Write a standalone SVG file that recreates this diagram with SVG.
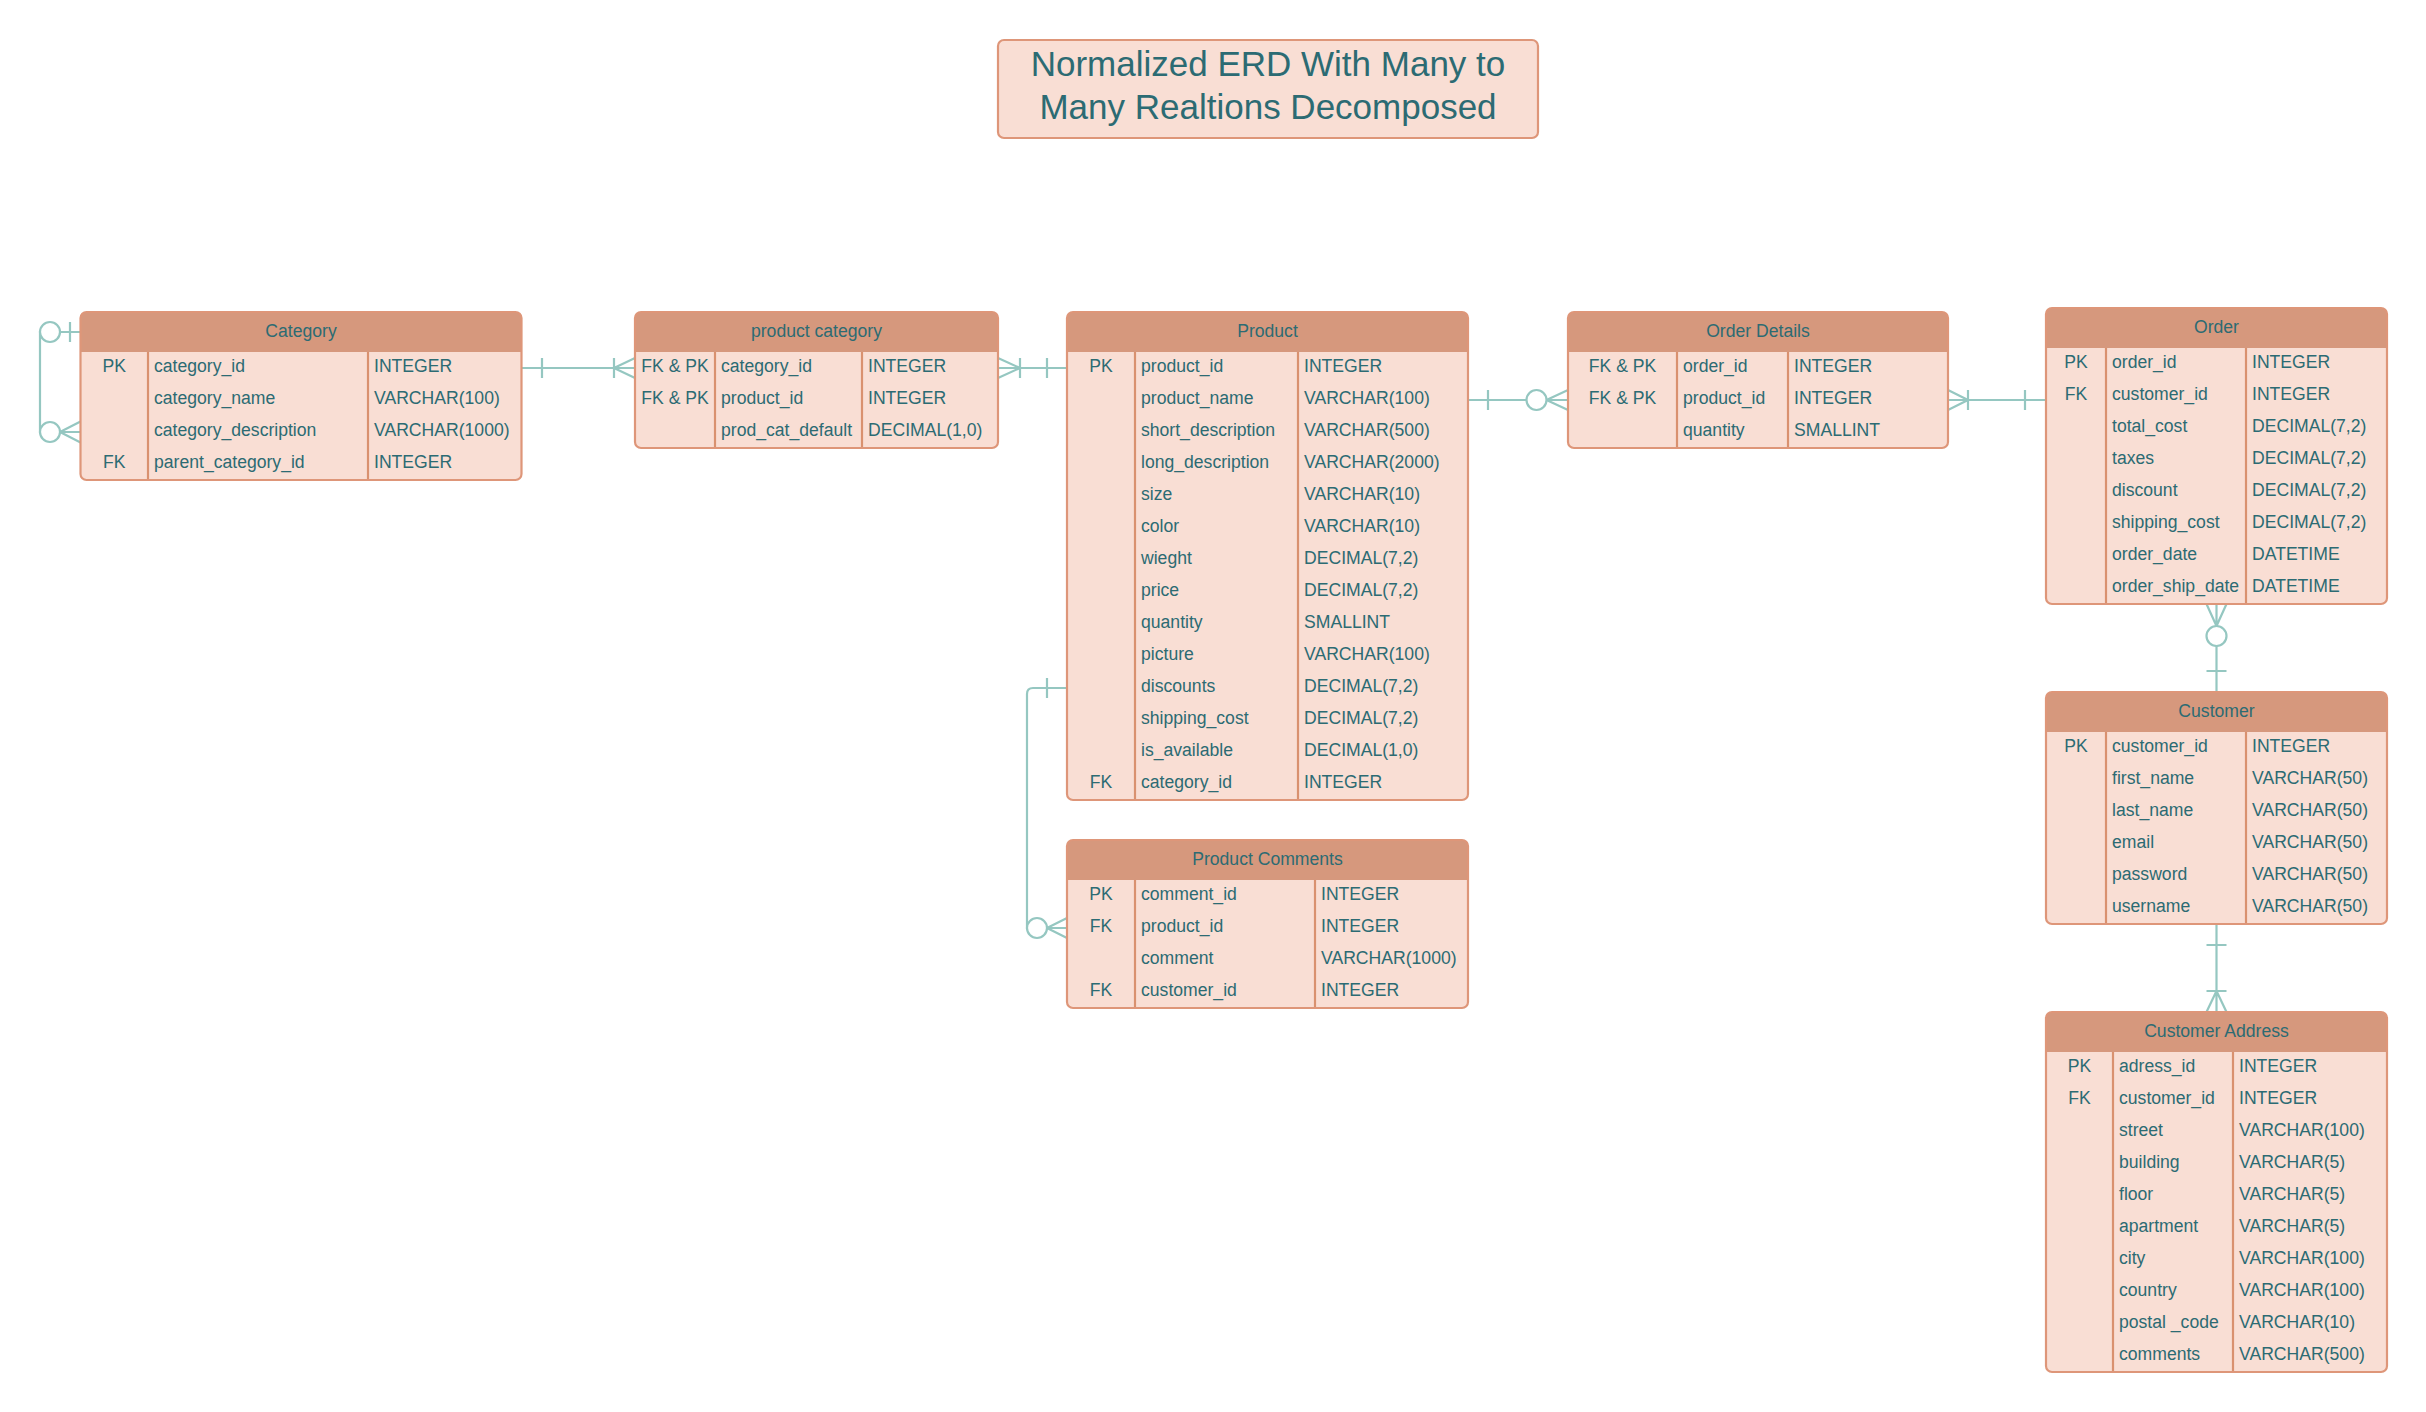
<svg xmlns="http://www.w3.org/2000/svg" width="2426" height="1412" viewBox="0 0 2426 1412">
<style>
.bg{fill:#ffffff}
.bd{fill:#F9DED4}
.hd{fill:#D6987D}
.ol{fill:none;stroke:#DE9679;stroke-width:2.2}
.dv{stroke:#D9916F;stroke-width:2.2}
.t{font-family:"Liberation Sans",Arial,sans-serif;font-size:17.6px;fill:#2C6B73}
.h{text-anchor:middle}
.k{text-anchor:middle}
.ti{font-family:"Liberation Sans",Arial,sans-serif;font-size:35px;fill:#2C6B73;text-anchor:middle}
.cn{fill:none;stroke:#95C7C1;stroke-width:2.2}
.ci{fill:#ffffff;stroke:#95C7C1;stroke-width:2.2}
</style>
<rect class="bg" x="0" y="0" width="2426" height="1412"/>

<g id="connectors">
  <!-- Category self relation -->
  <path class="cn" d="M80.5,332 H40 V432 H80.5 M70,322 V342 M60,432 L80.5,421.5 M60,432 L80.5,442.5"/>
  <circle class="ci" cx="50" cy="332" r="10"/>
  <circle class="ci" cx="50" cy="432" r="10"/>
  <!-- Category to product category -->
  <path class="cn" d="M521.5,368 H635 M542,358 V378 M614,358 V378 M614,368 L635,358 M614,368 L635,378"/>
  <!-- product category to Product -->
  <path class="cn" d="M998,368 H1067 M1020,368 L998,358 M1020,368 L998,378 M1020,358 V378 M1047,358 V378"/>
  <!-- Product to Order Details -->
  <path class="cn" d="M1468,400 H1568 M1488,390 V410 M1546.5,400 L1568,390 M1546.5,400 L1568,410"/>
  <circle class="ci" cx="1536.5" cy="400" r="10"/>
  <!-- Order Details to Order -->
  <path class="cn" d="M1948,400 H2046 M1968,400 L1948,390 M1968,400 L1948,410 M1968,390 V410 M2025,390 V410"/>
  <!-- Order to Customer -->
  <path class="cn" d="M2216.5,604 V692 M2216.5,626 L2206.5,604 M2216.5,626 L2226.5,604 M2206.5,671 H2226.5"/>
  <circle class="ci" cx="2216.5" cy="636" r="10"/>
  <!-- Customer to Customer Address -->
  <path class="cn" d="M2216.5,924 V1012 M2206.5,945 H2226.5 M2206.5,991 H2226.5 M2216.5,991 L2206.5,1012 M2216.5,991 L2226.5,1012"/>
  <!-- Product to Product Comments -->
  <path class="cn" d="M1067,688 H1033 Q1027,688 1027,694 V928 H1067 M1047,678 V698 M1047,928 L1067,918 M1047,928 L1067,938"/>
  <circle class="ci" cx="1037" cy="928" r="10"/>
</g>

<g id="title">
  <rect x="998" y="40" width="540" height="98" rx="6" fill="#F9DED4" stroke="#DE9679" stroke-width="2.2"/>
  <text class="ti" x="1268" y="76">Normalized ERD With Many to</text>
  <text class="ti" x="1268" y="119">Many Realtions Decomposed</text>
</g>

<g id="category">
  <rect class="bd" x="80.5" y="312" width="441" height="168" rx="6"/>
  <path class="hd" d="M80.5,352 V318 Q80.5,312 86.5,312 H515.5 Q521.5,312 521.5,318 V352 Z"/>
  <line class="dv" x1="148" y1="352" x2="148" y2="480"/>
  <line class="dv" x1="368" y1="352" x2="368" y2="480"/>
  <rect class="ol" x="80.5" y="312" width="441" height="168" rx="6"/>
  <text class="t h" x="301" y="336.5">Category</text>
  <text class="t k" x="114.25" y="372">PK</text>
  <text class="t" x="154" y="372">category_id</text>
  <text class="t" x="374" y="372">INTEGER</text>
  <text class="t" x="154" y="404">category_name</text>
  <text class="t" x="374" y="404">VARCHAR(100)</text>
  <text class="t" x="154" y="436">category_description</text>
  <text class="t" x="374" y="436">VARCHAR(1000)</text>
  <text class="t k" x="114.25" y="468">FK</text>
  <text class="t" x="154" y="468">parent_category_id</text>
  <text class="t" x="374" y="468">INTEGER</text>
</g>

<g id="product-category">
  <rect class="bd" x="635" y="312" width="363" height="136" rx="6"/>
  <path class="hd" d="M635,352 V318 Q635,312 641,312 H992 Q998,312 998,318 V352 Z"/>
  <line class="dv" x1="715" y1="352" x2="715" y2="448"/>
  <line class="dv" x1="862" y1="352" x2="862" y2="448"/>
  <rect class="ol" x="635" y="312" width="363" height="136" rx="6"/>
  <text class="t h" x="816.5" y="336.5">product category</text>
  <text class="t k" x="675" y="372">FK &amp; PK</text>
  <text class="t" x="721" y="372">category_id</text>
  <text class="t" x="868" y="372">INTEGER</text>
  <text class="t k" x="675" y="404">FK &amp; PK</text>
  <text class="t" x="721" y="404">product_id</text>
  <text class="t" x="868" y="404">INTEGER</text>
  <text class="t" x="721" y="436">prod_cat_default</text>
  <text class="t" x="868" y="436">DECIMAL(1,0)</text>
</g>

<g id="product">
  <rect class="bd" x="1067" y="312" width="401" height="488" rx="6"/>
  <path class="hd" d="M1067,352 V318 Q1067,312 1073,312 H1462 Q1468,312 1468,318 V352 Z"/>
  <line class="dv" x1="1135" y1="352" x2="1135" y2="800"/>
  <line class="dv" x1="1298" y1="352" x2="1298" y2="800"/>
  <rect class="ol" x="1067" y="312" width="401" height="488" rx="6"/>
  <text class="t h" x="1267.5" y="336.5">Product</text>
  <text class="t k" x="1101" y="372">PK</text>
  <text class="t" x="1141" y="372">product_id</text>
  <text class="t" x="1304" y="372">INTEGER</text>
  <text class="t" x="1141" y="404">product_name</text>
  <text class="t" x="1304" y="404">VARCHAR(100)</text>
  <text class="t" x="1141" y="436">short_description</text>
  <text class="t" x="1304" y="436">VARCHAR(500)</text>
  <text class="t" x="1141" y="468">long_description</text>
  <text class="t" x="1304" y="468">VARCHAR(2000)</text>
  <text class="t" x="1141" y="500">size</text>
  <text class="t" x="1304" y="500">VARCHAR(10)</text>
  <text class="t" x="1141" y="532">color</text>
  <text class="t" x="1304" y="532">VARCHAR(10)</text>
  <text class="t" x="1141" y="564">wieght</text>
  <text class="t" x="1304" y="564">DECIMAL(7,2)</text>
  <text class="t" x="1141" y="596">price</text>
  <text class="t" x="1304" y="596">DECIMAL(7,2)</text>
  <text class="t" x="1141" y="628">quantity</text>
  <text class="t" x="1304" y="628">SMALLINT</text>
  <text class="t" x="1141" y="660">picture</text>
  <text class="t" x="1304" y="660">VARCHAR(100)</text>
  <text class="t" x="1141" y="692">discounts</text>
  <text class="t" x="1304" y="692">DECIMAL(7,2)</text>
  <text class="t" x="1141" y="724">shipping_cost</text>
  <text class="t" x="1304" y="724">DECIMAL(7,2)</text>
  <text class="t" x="1141" y="756">is_available</text>
  <text class="t" x="1304" y="756">DECIMAL(1,0)</text>
  <text class="t k" x="1101" y="788">FK</text>
  <text class="t" x="1141" y="788">category_id</text>
  <text class="t" x="1304" y="788">INTEGER</text>
</g>

<g id="product-comments">
  <rect class="bd" x="1067" y="840" width="401" height="168" rx="6"/>
  <path class="hd" d="M1067,880 V846 Q1067,840 1073,840 H1462 Q1468,840 1468,846 V880 Z"/>
  <line class="dv" x1="1135" y1="880" x2="1135" y2="1008"/>
  <line class="dv" x1="1315" y1="880" x2="1315" y2="1008"/>
  <rect class="ol" x="1067" y="840" width="401" height="168" rx="6"/>
  <text class="t h" x="1267.5" y="864.5">Product Comments</text>
  <text class="t k" x="1101" y="900">PK</text>
  <text class="t" x="1141" y="900">comment_id</text>
  <text class="t" x="1321" y="900">INTEGER</text>
  <text class="t k" x="1101" y="932">FK</text>
  <text class="t" x="1141" y="932">product_id</text>
  <text class="t" x="1321" y="932">INTEGER</text>
  <text class="t" x="1141" y="964">comment</text>
  <text class="t" x="1321" y="964">VARCHAR(1000)</text>
  <text class="t k" x="1101" y="996">FK</text>
  <text class="t" x="1141" y="996">customer_id</text>
  <text class="t" x="1321" y="996">INTEGER</text>
</g>

<g id="order-details">
  <rect class="bd" x="1568" y="312" width="380" height="136" rx="6"/>
  <path class="hd" d="M1568,352 V318 Q1568,312 1574,312 H1942 Q1948,312 1948,318 V352 Z"/>
  <line class="dv" x1="1677" y1="352" x2="1677" y2="448"/>
  <line class="dv" x1="1788" y1="352" x2="1788" y2="448"/>
  <rect class="ol" x="1568" y="312" width="380" height="136" rx="6"/>
  <text class="t h" x="1758" y="336.5">Order Details</text>
  <text class="t k" x="1622.5" y="372">FK &amp; PK</text>
  <text class="t" x="1683" y="372">order_id</text>
  <text class="t" x="1794" y="372">INTEGER</text>
  <text class="t k" x="1622.5" y="404">FK &amp; PK</text>
  <text class="t" x="1683" y="404">product_id</text>
  <text class="t" x="1794" y="404">INTEGER</text>
  <text class="t" x="1683" y="436">quantity</text>
  <text class="t" x="1794" y="436">SMALLINT</text>
</g>

<g id="order">
  <rect class="bd" x="2046" y="308" width="341" height="296" rx="6"/>
  <path class="hd" d="M2046,348 V314 Q2046,308 2052,308 H2381 Q2387,308 2387,314 V348 Z"/>
  <line class="dv" x1="2106" y1="348" x2="2106" y2="604"/>
  <line class="dv" x1="2246" y1="348" x2="2246" y2="604"/>
  <rect class="ol" x="2046" y="308" width="341" height="296" rx="6"/>
  <text class="t h" x="2216.5" y="332.5">Order</text>
  <text class="t k" x="2076" y="368">PK</text>
  <text class="t" x="2112" y="368">order_id</text>
  <text class="t" x="2252" y="368">INTEGER</text>
  <text class="t k" x="2076" y="400">FK</text>
  <text class="t" x="2112" y="400">customer_id</text>
  <text class="t" x="2252" y="400">INTEGER</text>
  <text class="t" x="2112" y="432">total_cost</text>
  <text class="t" x="2252" y="432">DECIMAL(7,2)</text>
  <text class="t" x="2112" y="464">taxes</text>
  <text class="t" x="2252" y="464">DECIMAL(7,2)</text>
  <text class="t" x="2112" y="496">discount</text>
  <text class="t" x="2252" y="496">DECIMAL(7,2)</text>
  <text class="t" x="2112" y="528">shipping_cost</text>
  <text class="t" x="2252" y="528">DECIMAL(7,2)</text>
  <text class="t" x="2112" y="560">order_date</text>
  <text class="t" x="2252" y="560">DATETIME</text>
  <text class="t" x="2112" y="592">order_ship_date</text>
  <text class="t" x="2252" y="592">DATETIME</text>
</g>

<g id="customer">
  <rect class="bd" x="2046" y="692" width="341" height="232" rx="6"/>
  <path class="hd" d="M2046,732 V698 Q2046,692 2052,692 H2381 Q2387,692 2387,698 V732 Z"/>
  <line class="dv" x1="2106" y1="732" x2="2106" y2="924"/>
  <line class="dv" x1="2246" y1="732" x2="2246" y2="924"/>
  <rect class="ol" x="2046" y="692" width="341" height="232" rx="6"/>
  <text class="t h" x="2216.5" y="716.5">Customer</text>
  <text class="t k" x="2076" y="752">PK</text>
  <text class="t" x="2112" y="752">customer_id</text>
  <text class="t" x="2252" y="752">INTEGER</text>
  <text class="t" x="2112" y="784">first_name</text>
  <text class="t" x="2252" y="784">VARCHAR(50)</text>
  <text class="t" x="2112" y="816">last_name</text>
  <text class="t" x="2252" y="816">VARCHAR(50)</text>
  <text class="t" x="2112" y="848">email</text>
  <text class="t" x="2252" y="848">VARCHAR(50)</text>
  <text class="t" x="2112" y="880">password</text>
  <text class="t" x="2252" y="880">VARCHAR(50)</text>
  <text class="t" x="2112" y="912">username</text>
  <text class="t" x="2252" y="912">VARCHAR(50)</text>
</g>

<g id="customer-address">
  <rect class="bd" x="2046" y="1012" width="341" height="360" rx="6"/>
  <path class="hd" d="M2046,1052 V1018 Q2046,1012 2052,1012 H2381 Q2387,1012 2387,1018 V1052 Z"/>
  <line class="dv" x1="2113" y1="1052" x2="2113" y2="1372"/>
  <line class="dv" x1="2233" y1="1052" x2="2233" y2="1372"/>
  <rect class="ol" x="2046" y="1012" width="341" height="360" rx="6"/>
  <text class="t h" x="2216.5" y="1036.5">Customer Address</text>
  <text class="t k" x="2079.5" y="1072">PK</text>
  <text class="t" x="2119" y="1072">adress_id</text>
  <text class="t" x="2239" y="1072">INTEGER</text>
  <text class="t k" x="2079.5" y="1104">FK</text>
  <text class="t" x="2119" y="1104">customer_id</text>
  <text class="t" x="2239" y="1104">INTEGER</text>
  <text class="t" x="2119" y="1136">street</text>
  <text class="t" x="2239" y="1136">VARCHAR(100)</text>
  <text class="t" x="2119" y="1168">building</text>
  <text class="t" x="2239" y="1168">VARCHAR(5)</text>
  <text class="t" x="2119" y="1200">floor</text>
  <text class="t" x="2239" y="1200">VARCHAR(5)</text>
  <text class="t" x="2119" y="1232">apartment</text>
  <text class="t" x="2239" y="1232">VARCHAR(5)</text>
  <text class="t" x="2119" y="1264">city</text>
  <text class="t" x="2239" y="1264">VARCHAR(100)</text>
  <text class="t" x="2119" y="1296">country</text>
  <text class="t" x="2239" y="1296">VARCHAR(100)</text>
  <text class="t" x="2119" y="1328">postal _code</text>
  <text class="t" x="2239" y="1328">VARCHAR(10)</text>
  <text class="t" x="2119" y="1360">comments</text>
  <text class="t" x="2239" y="1360">VARCHAR(500)</text>
</g>
</svg>
